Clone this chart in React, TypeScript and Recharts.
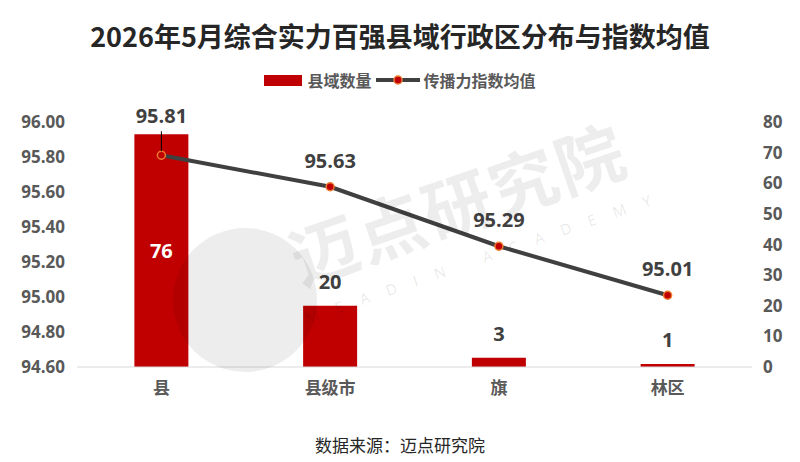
import { Bar, ComposedChart, LabelList, Line, XAxis, YAxis } from "recharts"

const regionTypes = ["县", "县级市", "旗", "林区"]
const countyCounts = [76, 20, 3, 1]
const indexAverages = [95.81, 95.63, 95.29, 95.01]
const leftTicks = [94.6, 94.8, 95.0, 95.2, 95.4, 95.6, 95.8, 96.0]
const rightTicks = [0, 10, 20, 30, 40, 50, 60, 70, 80]

const data = regionTypes.map((name, i) => ({
  name,
  count: countyCounts[i],
  index: indexAverages[i],
}))

const FONT = "'Open Sans', 'Noto Sans CJK SC', sans-serif"
const CJK = "'Noto Sans CJK SC', sans-serif"

function BarLabel(props: any) {
  const { x, y, width, height, value, index } = props
  const cx = x + width / 2
  if (index === 0) {
    return (
      <text x={cx} y={y + height / 2} dy="0.35em" textAnchor="middle" fill="#fff" fontSize={20} fontWeight={700} fontFamily={FONT}>
        {value}
      </text>
    )
  }
  return (
    <text x={cx} y={y - 24} dy="0.35em" textAnchor="middle" fill="#404040" fontSize={20} fontWeight={700} fontFamily={FONT}>
      {value}
    </text>
  )
}

function LineLabel(props: any) {
  const { x, y, value, index } = props
  const off = index === 0 ? 39 : 26
  return (
    <g>
      {index === 0 && <line x1={x} y1={y - 24} x2={x} y2={y - 4} stroke="#000" strokeWidth={1} />}
      <text x={x} y={y - off} dy="0.35em" textAnchor="middle" fill="#404040" fontSize={20} fontWeight={700} fontFamily={FONT}>
        {Number(value).toFixed(2)}
      </text>
    </g>
  )
}

function Watermark() {
  return (
    <svg width={800} height={462} style={{ position: "absolute", left: 0, top: 0, pointerEvents: "none" }}>
      <circle cx={245} cy={300} r={72} fill="rgba(0,0,0,0.07)" />
      <g transform="rotate(-19 460 210)">
        <text x={460} y={230} textAnchor="middle" fontSize={68} fontWeight={700} fontFamily={CJK} fill="rgba(0,0,0,0.07)" letterSpacing={2}>
          迈点研究院
        </text>
        <text x={470} y={268} textAnchor="middle" fontSize={15} fontFamily={FONT} fill="rgba(0,0,0,0.1)" letterSpacing={18}>
          MEADIN ACADEMY
        </text>
      </g>
    </svg>
  )
}

export default function App() {
  return (
    <div style={{ position: "absolute", left: 0, top: 0, width: 800, height: 462, background: "#fff", overflow: "hidden" }}>
      <div
        style={{
          position: "absolute",
          top: 17,
          width: 800,
          textAlign: "center",
          fontFamily: CJK,
          fontWeight: 700,
          fontSize: 27,
          color: "#262626",
          lineHeight: "38px",
        }}
      >
        2026年5月综合实力百强县域行政区分布与指数均值
      </div>
      <div
        style={{
          position: "absolute",
          top: 69,
          width: 800,
          display: "flex",
          justifyContent: "center",
          alignItems: "center",
          fontFamily: CJK,
          fontWeight: 700,
          fontSize: 16,
          color: "#595959",
          lineHeight: "22px",
        }}
      >
        <span style={{ display: "inline-block", width: 38, height: 11, background: "#C00000", marginRight: 5 }} />
        <span>县域数量</span>
        <svg width={44} height={12} style={{ margin: "0 4px" }}>
          <line x1={0} y1={6} x2={44} y2={6} stroke="#404040" strokeWidth={4} />
          <circle cx={22} cy={6} r={4} fill="#C00000" stroke="#ED7D31" strokeWidth={1.5} />
        </svg>
        <span>传播力指数均值</span>
      </div>
      <ComposedChart width={800} height={462} data={data} margin={{ top: 122, right: 0, bottom: 65, left: 0 }} barCategoryGap="34%">
        <XAxis
          dataKey="name"
          tickLine={false}
          axisLine={{ stroke: "#d9d9d9" }}
          tickMargin={9}
          tick={{ fill: "#595959", fontSize: 17, fontWeight: 700, fontFamily: CJK }}
        />
        <YAxis
          yAxisId="left"
          orientation="left"
          width={77}
          domain={[94.6, 96.0]}
          ticks={leftTicks}
          interval={0}
          tickFormatter={(v: number) => v.toFixed(2)}
          axisLine={false}
          tickLine={false}
          tickMargin={6}
          tick={{ fill: "#595959", fontSize: 17, fontWeight: 700, fontFamily: FONT }}
        />
        <YAxis
          yAxisId="right"
          orientation="right"
          width={48}
          domain={[0, 80]}
          ticks={rightTicks}
          interval={0}
          axisLine={false}
          tickLine={false}
          tickMargin={5}
          tick={{ fill: "#595959", fontSize: 17, fontWeight: 700, fontFamily: FONT, textAnchor: "start" }}
        />
        <Bar yAxisId="right" dataKey="count" fill="#C00000" isAnimationActive={false}>
          <LabelList dataKey="count" content={BarLabel} />
        </Bar>
        <Line
          yAxisId="left"
          type="linear"
          dataKey="index"
          stroke="#404040"
          strokeWidth={4}
          dot={{ r: 4, fill: "#C00000", stroke: "#ED7D31", strokeWidth: 1.5 }}
          isAnimationActive={false}
        >
          <LabelList dataKey="index" content={LineLabel} />
        </Line>
      </ComposedChart>
      <div
        style={{
          position: "absolute",
          top: 433,
          width: 800,
          textAlign: "center",
          fontFamily: CJK,
          fontSize: 17,
          color: "#262626",
          lineHeight: "24px",
        }}
      >
        数据来源：迈点研究院
      </div>
      <Watermark />
    </div>
  )
}
